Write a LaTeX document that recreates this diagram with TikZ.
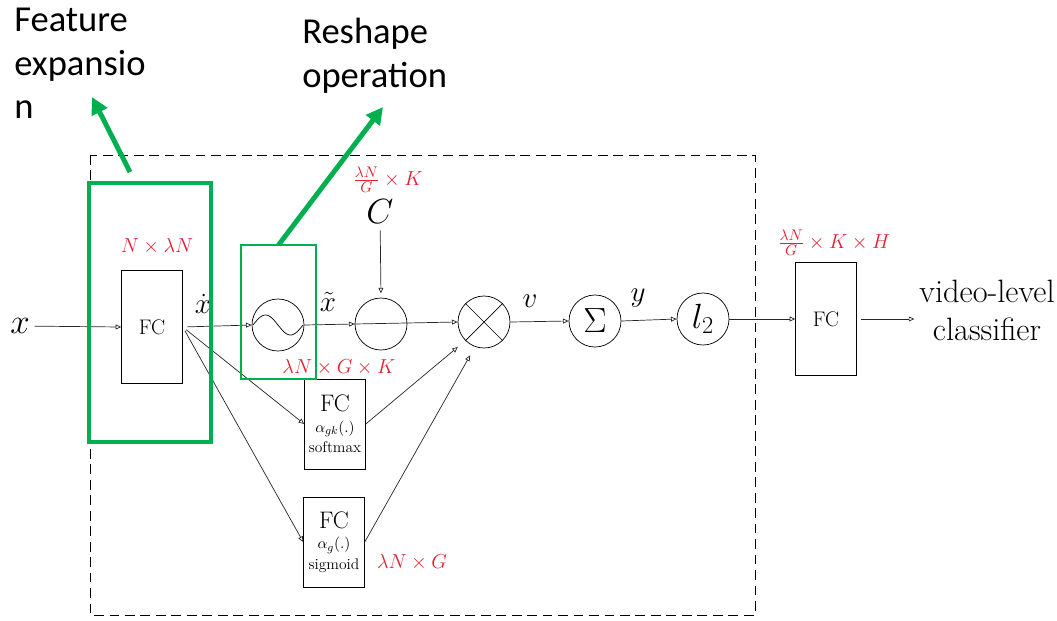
\documentclass[tikz,border=0pt]{standalone}
\usepackage{fontspec}
\newfontfamily\calloutfont{Carlito}
\usepackage{amsmath}
\usetikzlibrary{arrows.meta}
\definecolor{calloutgreen}{RGB}{0,176,80}
\definecolor{dimred}{RGB}{226,32,48}

\begin{document}
\begin{tikzpicture}[x=0.025cm, y=-0.025cm,
  >={Triangle[open, length=4pt, width=3.5pt]},
  flow/.style={->, line width=0.5pt, black!85},
  opnode/.style={draw, circle, minimum size=1.3cm, inner sep=0pt, line width=0.5pt},
  fcbox/.style={draw, rectangle, inner sep=0pt, line width=0.5pt, minimum width=1.52cm},
  dimlabel/.style={text=dimred, font=\fontsize{14}{16}\selectfont},
  varlabel/.style={font=\fontsize{22}{22}\selectfont, inner sep=1pt},
  callout/.style={calloutgreen, line width=3.5pt, -{Triangle[length=12pt, width=12pt]}},
  callouttext/.style={font=\calloutfont\fontsize{26}{31}\selectfont, align=left, anchor=north west, inner sep=0pt}]

  \useasboundingbox (0,0) rectangle (1057,620);

  % Outer dashed frame
  \draw[dashed, dash pattern=on 7pt off 4pt, line width=0.5pt] (90,155) rectangle (755,615);

  % Main row, left to right
  \node[font=\fontsize{32}{32}\selectfont] (xin) at (20,326) {$x$};
  \node[fcbox, minimum height=2.83cm, font=\fontsize{15}{15}\selectfont] (fcexp) at (152,327) {FC};
  \node[opnode] (reshape) at (278,325) {};
  \draw[line width=0.5pt, shift={(reshape.center)}]
    plot[domain=-25:25, samples=50, smooth] (\x, {10*sin(7.2*\x)});
  \node[opnode] (resid) at (381,324) {};
  \node[font=\fontsize{27}{27}\selectfont] (cent) at (380,212) {$C$};
  \node[opnode] (prod) at (484,322) {};
  \draw[line width=0.5pt] (prod.45) -- (prod.225) (prod.135) -- (prod.-45);
  \node[opnode, font=\fontsize{24}{24}\selectfont] (agg) at (595,321) {$\Sigma$};
  \node[opnode, font=\fontsize{24}{24}\selectfont] (norm) at (703,319) {$l_2$};
  \node[fcbox, minimum height=2.83cm, font=\fontsize{15}{15}\selectfont] (fcout) at (826,319) {FC};
  \node[font=\fontsize{23}{27}\selectfont, align=center] (cls) at (987,310) {video-level\\classifier};

  % Soft assignment and gating branches
  \node[fcbox, minimum height=2.25cm, font=\fontsize{11}{14.5}\selectfont, align=center] (soft) at (335,424)
    {{\fontsize{17}{18}\selectfont FC}\\$\alpha_{gk}(.)$\\softmax};
  \node[fcbox, minimum height=2.25cm, font=\fontsize{11}{14.5}\selectfont, align=center] (sig) at (334,542)
    {{\fontsize{17}{18}\selectfont FC}\\$\alpha_{g}(.)$\\sigmoid};

  % Dimension labels
  \node[dimlabel] (dimexp) at (157,246) {$N\times\lambda N$};
  \node[dimlabel, font=\fontsize{15}{17}\selectfont] (dimc) at (388,180) {$\frac{\lambda N}{G}\times K$};
  \node[dimlabel] (dimsoft) at (339,367) {$\lambda N\times G\times K$};
  \node[dimlabel] (dimsig) at (412,562) {$\lambda N\times G$};
  \node[dimlabel, font=\fontsize{15}{17}\selectfont] (dimout) at (834,243) {$\frac{\lambda N}{G}\times K\times H$};

  % Variable names on the connectors
  \node[varlabel] (xdot) at (203,304) {$\dot{x}$};
  \node[varlabel] (xtilde) at (328,302) {$\tilde{x}$};
  \node[varlabel] (vlab) at (530,301) {$v$};
  \node[varlabel] (ylab) at (638,298) {$y$};

  % Connectors
  \draw[flow] (xin) -- (fcexp.west);
  \draw[flow, shorten <=3pt] (fcexp.east) -- (reshape.west);
  \draw[flow] (reshape.east) -- (resid.west);
  \draw[flow, shorten <=1pt, shorten >=3pt] (cent) -- (resid.north);
  \draw[flow] (resid.west) -- (prod.west);
  \draw[flow] (prod.east) -- (agg.west);
  \draw[flow] (agg.east) -- (norm.west);
  \draw[flow] (norm.east) -- (fcout.west);
  \draw[flow, shorten <=3pt] (fcout.east) -- (fcout.east -| cls.west);
  \draw[flow, shorten <=3pt] (fcexp.east) -- (soft.west);
  \draw[flow, shorten <=3pt] (fcexp.east) -- (sig.west);
  \draw[flow, shorten >=7pt] (soft.east) -- (prod.225);
  \draw[flow, shorten >=7pt] (sig.east) -- (prod.250);

  % Green call-outs
  \draw[calloutgreen, line width=2.8pt] (89,183) rectangle (211,442);
  \draw[calloutgreen, line width=2pt] (241,245) rectangle (316,379);
  \coordinate (expfoot) at (130,172);
  \coordinate (exptip) at (92,97);
  \coordinate (shapefoot) at (278.5,245);
  \coordinate (shapetip) at (383,107);
  \draw[callout] (expfoot) -- (exptip);
  \draw[callout] (shapefoot) -- (shapetip);
  \node[callouttext] (exptext) at (14,8) {Feature\\expansio\\n};
  \node[callouttext] (shapetext) at (302,18) {Reshape\\operation};

\end{tikzpicture}
\end{document}
